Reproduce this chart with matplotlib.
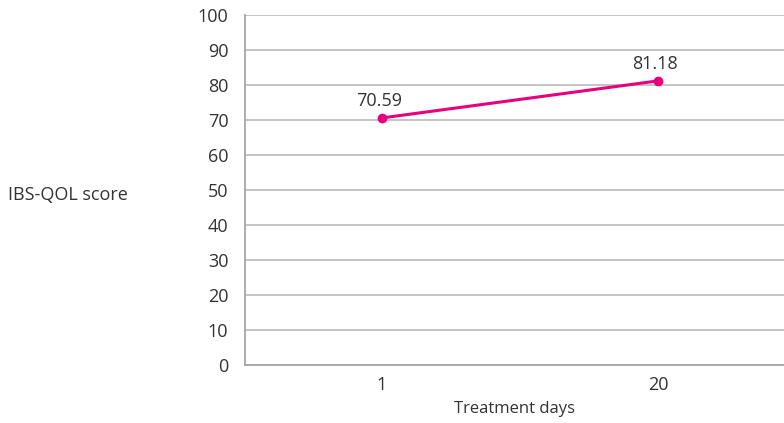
import matplotlib
matplotlib.use("Agg")
import matplotlib.pyplot as plt

days = ["1", "20"]
scores = [70.59, 81.18]
y_ticks = list(range(0, 101, 10))

plt.rcParams['font.family'] = ['Open Sans', 'DejaVu Sans']

fig = plt.figure(figsize=(7.84, 4.23), dpi=100)
ax = fig.add_axes([245 / 784, 1 - 365 / 423, 1 - 245 / 784, (365 - 15) / 423])

x = list(range(len(days)))
pink = "#E6007E"
ax.plot(x, scores, color=pink, lw=2.2, marker="o", ms=6, zorder=3, clip_on=False)
for xi, v in zip(x, scores):
    ax.annotate(f"{v:.2f}", (xi, v), xytext=(-2, 6), textcoords="offset points",
                ha="center", va="bottom", fontsize=13, color="#333333")

ax.set_xlim(-137 / 276, (784 - 382) / 276)
ax.set_ylim(0, 100)
ax.set_yticks(y_ticks)
ax.set_xticks(x)
ax.set_xticklabels(days)
ax.yaxis.grid(True, color="#BFBFBF", lw=1.3)
ax.set_axisbelow(True)
for s in ["top", "right"]:
    ax.spines[s].set_visible(False)
for s in ["left", "bottom"]:
    ax.spines[s].set_color("#A6A6A6")
    ax.spines[s].set_linewidth(1.3)
ax.tick_params(axis="both", length=0, labelsize=13, colors="#333333")
ax.tick_params(axis="y", pad=12)
ax.tick_params(axis="x", pad=8)

ax.set_xlabel("Treatment days", fontsize=12, color="#333333", labelpad=5)
fig.text(8 / 784, 1 - 195 / 423, "IBS-QOL score", fontsize=13, color="#333333",
         ha="left", va="center")

fig.savefig("out.png", dpi=100)
